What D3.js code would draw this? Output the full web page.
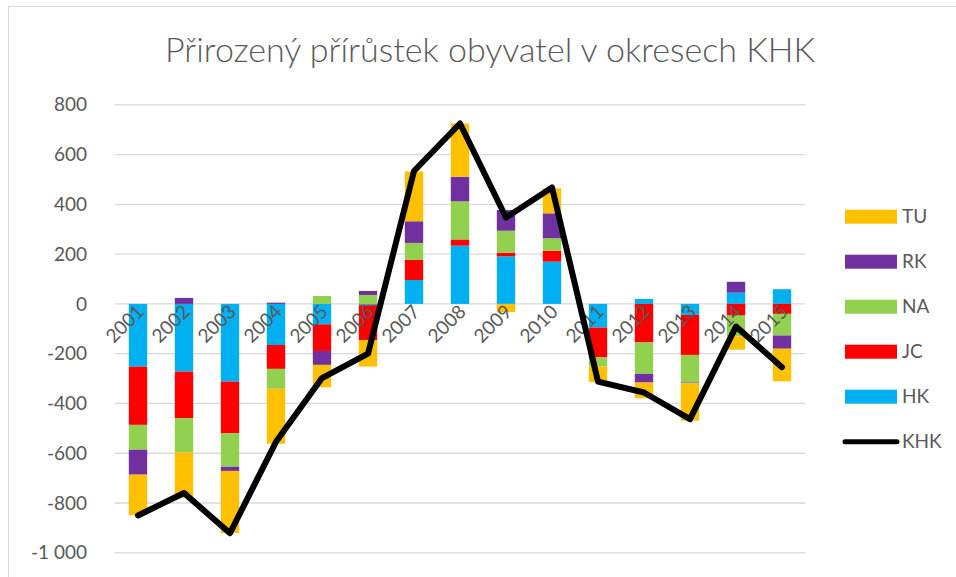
<!DOCTYPE html>
<html>
<head>
<meta charset="utf-8">
<script src="https://cdn.jsdelivr.net/npm/d3@7"></script>
<style>
  body { margin: 0; background: #fff; }
  text { font-family: Lato, "Open Sans", sans-serif; fill: #595959; }
</style>
</head>
<body>
<svg id="chart" width="956" height="577"></svg>
<script>
const years = ["2001", "2002", "2003", "2004", "2005", "2006", "2007", "2008",
  "2009", "2010", "2011", "2012", "2013", "2014", "2015"];
const HK = [-252, -272, -312, -165, -82, -5, 96, 234, 191, 170, -95, 20, -44, 45, 59];
const JC = [-234, -187, -208, -96, -107, -140, 82, 25, 15, 44, -120, -155, -161, -47, -40];
const NA = [-100, -138, -134, -80, 32, 36, 67, 153, 88, 50, -36, -126, -111, -84, -87];
const RK = [-100, 24, -17, 5, -56, 16, 87, 99, 83, 100, 0, -35, -3, 44, -53];
const TU = [-163, -182, -250, -221, -90, -107, 200, 214, -33, 100, -63, -63, -150, -53, -131];
const KHK = [-850, -760, -921, -554, -298, -200, 534, 725, 347, 468, -312, -356, -463, -91, -254];
const yTicks = [800, 600, 400, 200, 0, -200, -400, -600, -800, -1000];

const seriesKeys = ["HK", "JC", "NA", "RK", "TU"];
const colors = { HK: "#00B0F0", JC: "#FF0000", NA: "#92D050", RK: "#7030A0", TU: "#FFC000" };
const table = years.map((y, i) => ({ year: y, HK: HK[i], JC: JC[i], NA: NA[i], RK: RK[i], TU: TU[i] }));

const svg = d3.select("#chart");

// chart border
svg.append("rect")
  .attr("x", 8.5).attr("y", 6.5)
  .attr("width", 960).attr("height", 600)
  .attr("fill", "none").attr("stroke", "#D9D9D9");

const plotLeft = 115, plotRight = 805, plotTop = 104.8, plotBottom = 552.8;

const x = d3.scaleBand().domain(years).range([plotLeft, plotRight]).paddingInner(0.6).paddingOuter(0.3);
const y = d3.scaleLinear().domain([-1000, 800]).range([plotBottom, plotTop]);

svg.append("text")
  .attr("x", 490).attr("y", 62)
  .attr("text-anchor", "middle")
  .style("font-size", "34px")
  .style("font-weight", 300)
  .text("Přirozený přírůstek obyvatel v okresech KHK");

// gridlines
svg.append("g")
  .selectAll("line")
  .data(yTicks)
  .join("line")
  .attr("x1", plotLeft).attr("x2", plotRight)
  .attr("y1", d => y(d)).attr("y2", d => y(d))
  .attr("stroke", "#D9D9D9").attr("stroke-width", 1.3);

// y labels (Czech style: space as thousands separator, plain hyphen)
const fmt = d => (d < 0 ? "-" : "") + d3.format(",")(Math.abs(d)).replace(",", " ");
svg.append("g")
  .selectAll("text")
  .data(yTicks)
  .join("text")
  .attr("x", 87)
  .attr("y", d => y(d))
  .attr("dy", "0.35em")
  .attr("text-anchor", "end")
  .style("font-size", "19px")
  .text(fmt);

// stacked bars
const stack = d3.stack().keys(seriesKeys).offset(d3.stackOffsetDiverging);
const layers = stack(table);

svg.append("g")
  .selectAll("g")
  .data(layers)
  .join("g")
  .attr("fill", d => colors[d.key])
  .selectAll("rect")
  .data(d => d)
  .join("rect")
  .attr("x", d => x(d.data.year))
  .attr("width", x.bandwidth())
  .attr("y", d => y(Math.max(d[0], d[1])))
  .attr("height", d => Math.abs(y(d[0]) - y(d[1])));

// x labels, rotated, sitting on the zero line
svg.append("g")
  .selectAll("text")
  .data(years)
  .join("text")
  .attr("text-anchor", "end")
  .attr("transform", d => `translate(${x(d) + x.bandwidth() / 2 + 7},${y(0) + 9}) rotate(-45)`)
  .style("font-size", "19px")
  .text(d => d);

// KHK line
const line = d3.line()
  .x((d, i) => x(years[i]) + x.bandwidth() / 2)
  .y(d => y(d));

svg.append("path")
  .datum(KHK)
  .attr("d", line)
  .attr("fill", "none")
  .attr("stroke", "#000")
  .attr("stroke-width", 6)
  .attr("stroke-linejoin", "round")
  .attr("stroke-linecap", "round");

// legend
const legendItems = ["TU", "RK", "NA", "JC", "HK"];
const lg = svg.append("g");
legendItems.forEach((k, i) => {
  const cy = 216.7 + i * 45;
  lg.append("rect").attr("x", 845).attr("y", cy - 7).attr("width", 52).attr("height", 14).attr("fill", colors[k]);
  lg.append("text").attr("x", 902).attr("y", cy).attr("dy", "0.35em").style("font-size", "19px").text(k);
});
const ky = 216.7 + 5 * 45;
lg.append("line").attr("x1", 845).attr("x2", 897).attr("y1", ky).attr("y2", ky)
  .attr("stroke", "#000").attr("stroke-width", 5).attr("stroke-linecap", "round");
lg.append("text").attr("x", 902).attr("y", ky).attr("dy", "0.35em").style("font-size", "19px").text("KHK");
</script>
</body>
</html>
